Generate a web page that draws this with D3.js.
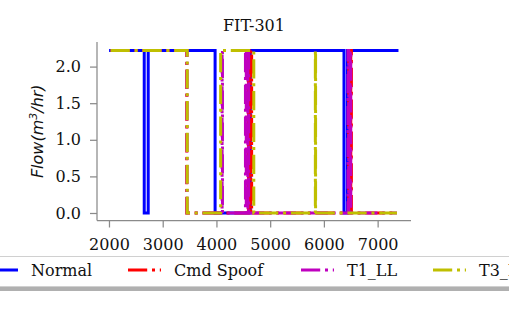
<!DOCTYPE html>
<html>
<head>
<meta charset="utf-8">
<script src="https://cdn.jsdelivr.net/npm/d3@7"></script>
<style>
body{margin:0;background:#fff;}
svg text{font-family:"DejaVu Serif",serif;fill:#111;}
</style>
</head>
<body>
<svg id="chart"></svg>
<script>
// change points: [time, flow], value holds until the next point
var normalPts = [[2030,2.22],[2656,0],[2730,2.22],[3975,0],[4630,2.22],[6374,0],[6438,2.22],[7360,2.22]];
var cmdPts = [[2030,2.22],[3448,0],[4595,2.22],[4610,0],[4640,2.22],[4655,0],
              [6462,2.22],[6476,0],[6500,2.22],[6512,0],[7360,0]];
var t1Pts = [[2030,2.22],[3452,0],[4105,2.22],[4112,0],[4540,2.22],[4555,0],
             [4585,2.22],[4600,0],[6448,2.22],[6462,0],[6488,2.22],[6500,0],[7360,0]];
var t3Pts = [[2030,2.22],[3456,0],[4078,2.22],[4695,0],[5841,2.22],[5845,0],[7360,0]];

var names = ["Normal","Cmd Spoof","T1_LL","T3_HH"];
var colors = ["#0000ff","#ff0000","#bf00bf","#bfbf00"];
var xTicks = [2000,3000,4000,5000,6000,7000];
var yTicks = [0,0.5,1.0,1.5,2.0];

var width=509, height=315;
var margin={left:97,right:98,top:42,bottom:94.5};
var dash="19.2,4.8,3,4.8";

var svg=d3.select("#chart").attr("width",width).attr("height",height);

var xScale=d3.scaleLinear()
             .domain([1777,7621])
             .range([margin.left,width-margin.right]);
var yScale=d3.scaleLinear()
             .domain([-0.1025,2.336])
             .range([height-margin.bottom,margin.top]);

var line=d3.line()
           .x(function(d){return xScale(d[0]);})
           .y(function(d){return yScale(d[1]);})
           .curve(d3.curveStepAfter);

var series=[normalPts,cmdPts,t1Pts,t3Pts];
series.forEach(function(s,i){
  svg.append("path")
     .datum(s)
     .attr("d",line)
     .attr("fill","none")
     .attr("stroke",colors[i])
     .attr("stroke-width",3)
     .attr("stroke-linecap",i==0?"square":"butt")
     .attr("stroke-dasharray",i==0?null:dash);
});

var xAxis=d3.axisBottom(xScale).tickValues(xTicks).tickSize(7).tickPadding(11).tickFormat(d3.format("d"));
var yAxis=d3.axisLeft(yScale).tickValues(yTicks).tickSize(7).tickPadding(9).tickFormat(d3.format(".1f"));

var gx=svg.append("g")
   .attr("transform","translate(0,"+(height-margin.bottom)+")")
   .call(xAxis);
var gy=svg.append("g")
   .attr("transform","translate("+margin.left+",0)")
   .call(yAxis);
[gx,gy].forEach(function(g){
  g.select(".domain").attr("stroke","#8a8a8a").attr("stroke-width",1.25);
  g.selectAll(".tick line").attr("stroke","#8a8a8a").attr("stroke-width",1.25);
  g.selectAll(".tick text").attr("font-size",16).attr("font-family","DejaVu Serif").attr("fill","#111");
});
gx.select(".domain").attr("d","M"+margin.left+",0H"+(width-margin.right));
gy.select(".domain").attr("d","M0,"+margin.top+"V"+(height-margin.bottom));

svg.append("text")
   .attr("x",(margin.left+width-margin.right)/2)
   .attr("y",31)
   .attr("text-anchor","middle")
   .attr("font-size",16)
   .text("FIT-301");

var yl=svg.append("text")
   .attr("transform","translate(43,"+((margin.top+height-margin.bottom)/2)+") rotate(-90)")
   .attr("text-anchor","middle")
   .attr("font-size",16)
   .style("font-family","DejaVu Sans")
   .style("font-style","italic");
yl.append("tspan").text("Flow(m");
yl.append("tspan").attr("font-size",11).attr("dy",-6).text("3");
yl.append("tspan").attr("dy",6).text("/hr)");

// legend
var lg=svg.append("g");
lg.append("rect").attr("x",-22).attr("y",260).attr("width",560).attr("height",31).attr("fill","#b0b0b0");
lg.append("rect").attr("x",-25).attr("y",256.5).attr("width",560).attr("height",30).attr("fill","#fff").attr("stroke","#d0d0d0").attr("stroke-width",1);
var lx=[-15,128,301,433];
names.forEach(function(n,i){
  lg.append("line")
    .attr("x1",lx[i]).attr("x2",lx[i]+33)
    .attr("y1",270).attr("y2",270)
    .attr("stroke",colors[i]).attr("stroke-width",3)
    .attr("stroke-dasharray",i==0?null:dash);
  lg.append("text")
    .attr("x",lx[i]+46).attr("y",276)
    .attr("font-size",16)
    .text(n);
});
</script>
</body>
</html>
